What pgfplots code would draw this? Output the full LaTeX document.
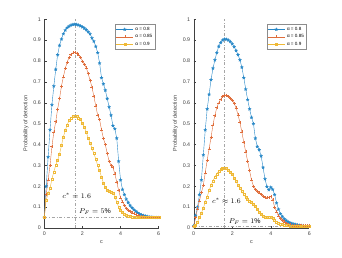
\documentclass[border=0pt]{standalone}
\usepackage{fontspec}
\setmainfont{Liberation Sans}
\usepackage{pgfplots}
\usepackage{pgfplotstable}
\pgfplotsset{compat=1.18}
\definecolor{mblue}{rgb}{0,0.447,0.741}
\definecolor{mred}{rgb}{0.85,0.325,0.098}
\definecolor{myel}{rgb}{0.929,0.694,0.125}
\pgfdeclareplotmark{pstar}{%
  \pgfpathmoveto{\pgfpointpolar{90}{\pgfplotmarksize}}%
  \pgfpathlineto{\pgfpointpolar{126}{0.42*\pgfplotmarksize}}%
  \pgfpathlineto{\pgfpointpolar{162}{\pgfplotmarksize}}%
  \pgfpathlineto{\pgfpointpolar{198}{0.42*\pgfplotmarksize}}%
  \pgfpathlineto{\pgfpointpolar{234}{\pgfplotmarksize}}%
  \pgfpathlineto{\pgfpointpolar{270}{0.42*\pgfplotmarksize}}%
  \pgfpathlineto{\pgfpointpolar{306}{\pgfplotmarksize}}%
  \pgfpathlineto{\pgfpointpolar{342}{0.42*\pgfplotmarksize}}%
  \pgfpathlineto{\pgfpointpolar{18}{\pgfplotmarksize}}%
  \pgfpathlineto{\pgfpointpolar{54}{0.42*\pgfplotmarksize}}%
  \pgfpathclose\pgfusepathqfillstroke}

\pgfplotstableread{
c b r y
0.0 0.05 0.05 0.05
0.1 0.20 0.16 0.135
0.2 0.34 0.23 0.165
0.3 0.47 0.30 0.19
0.4 0.59 0.39 0.235
0.5 0.68 0.46 0.27
0.6 0.76 0.51 0.30
0.7 0.83 0.57 0.325
0.8 0.875 0.62 0.355
0.9 0.905 0.68 0.395
1.0 0.93 0.724 0.437
1.1 0.948 0.765 0.467
1.2 0.96 0.795 0.495
1.3 0.967 0.818 0.515
1.4 0.972 0.832 0.528
1.5 0.975 0.839 0.535
1.6 0.976 0.841 0.537
1.7 0.975 0.838 0.535
1.8 0.972 0.83 0.528
1.9 0.968 0.818 0.52
2.0 0.963 0.80 0.502
2.1 0.957 0.785 0.482
2.2 0.95 0.768 0.458
2.3 0.94 0.74 0.432
2.4 0.93 0.708 0.408
2.5 0.91 0.675 0.382
2.6 0.895 0.63 0.357
2.7 0.87 0.585 0.33
2.8 0.84 0.54 0.30
2.9 0.79 0.52 0.275
3.0 0.72 0.47 0.245
3.1 0.69 0.43 0.215
3.2 0.66 0.40 0.195
3.3 0.62 0.357 0.18
3.4 0.58 0.32 0.176
3.5 0.54 0.30 0.172
3.6 0.49 0.29 0.168
3.7 0.475 0.26 0.15
3.8 0.43 0.22 0.125
3.9 0.32 0.18 0.10
4.0 0.23 0.145 0.085
4.1 0.185 0.125 0.075
4.2 0.16 0.108 0.067
4.3 0.138 0.095 0.062
4.4 0.122 0.086 0.058
4.5 0.108 0.079 0.055
4.6 0.097 0.073 0.053
4.7 0.088 0.069 0.052
4.8 0.08 0.064 0.051
4.9 0.073 0.06 0.05
5.0 0.067 0.057 0.05
5.1 0.063 0.055 0.05
5.2 0.06 0.053 0.05
5.3 0.057 0.052 0.05
5.4 0.055 0.051 0.05
5.5 0.053 0.05 0.05
5.6 0.052 0.05 0.05
5.7 0.051 0.05 0.05
5.8 0.05 0.05 0.05
5.9 0.05 0.05 0.05
6.0 0.05 0.05 0.05
}\tabL

\pgfplotstableread{
c b r y
0.0 0.01 0.01 0.01
0.1 0.06 0.05 0.015
0.2 0.10 0.092 0.03
0.3 0.16 0.13 0.05
0.4 0.23 0.17 0.072
0.5 0.35 0.205 0.095
0.6 0.47 0.265 0.125
0.7 0.57 0.325 0.15
0.8 0.64 0.38 0.18
0.9 0.71 0.434 0.205
1.0 0.765 0.495 0.225
1.1 0.805 0.54 0.245
1.2 0.84 0.577 0.26
1.3 0.87 0.60 0.272
1.4 0.888 0.617 0.28
1.5 0.90 0.63 0.285
1.6 0.905 0.636 0.287
1.7 0.904 0.635 0.285
1.8 0.90 0.63 0.278
1.9 0.893 0.622 0.268
2.0 0.882 0.612 0.258
2.1 0.868 0.598 0.24
2.2 0.85 0.575 0.223
2.3 0.83 0.543 0.205
2.4 0.805 0.505 0.19
2.5 0.77 0.46 0.175
2.6 0.72 0.41 0.16
2.7 0.665 0.365 0.148
2.8 0.615 0.32 0.138
2.9 0.57 0.275 0.13
3.0 0.53 0.23 0.124
3.1 0.50 0.20 0.115
3.2 0.43 0.185 0.103
3.3 0.39 0.177 0.09
3.4 0.375 0.168 0.078
3.5 0.345 0.16 0.066
3.6 0.29 0.152 0.058
3.7 0.235 0.147 0.052
3.8 0.198 0.145 0.05
3.9 0.183 0.148 0.052
4.0 0.195 0.152 0.054
4.1 0.185 0.135 0.047
4.2 0.16 0.10 0.038
4.3 0.12 0.078 0.03
4.4 0.09 0.058 0.024
4.5 0.068 0.045 0.02
4.6 0.055 0.036 0.017
4.7 0.043 0.029 0.015
4.8 0.036 0.023 0.013
4.9 0.03 0.019 0.012
5.0 0.025 0.016 0.011
5.1 0.022 0.014 0.01
5.2 0.019 0.013 0.01
5.3 0.017 0.012 0.01
5.4 0.015 0.011 0.01
5.5 0.013 0.01 0.01
5.6 0.012 0.01 0.01
5.7 0.011 0.01 0.01
5.8 0.01 0.01 0.01
5.9 0.01 0.01 0.01
6.0 0.01 0.01 0.01
}\tabR

\pgfplotsset{
  panel/.style={
    scale only axis, anchor=south west,
    height=208.7pt,
    xmin=0, xmax=6, ymin=0, ymax=1,
    axis x line*=bottom, axis y line*=left,
    axis line style={draw=black!75, line width=0.4pt},
    tick align=inside, major tick length=2.2pt,
    tick style={black!75, line width=0.4pt},
    xtick={0,2,4,6},
    ytick={0,0.1,...,1},
    yticklabels={0,0.1,0.2,0.3,0.4,0.5,0.6,0.7,0.8,0.9,1},
    /pgf/number format/assume math mode=true,
    tick label style={font=\fontsize{5.3}{6}\selectfont, text=black!75},
    xticklabel style={yshift=-0.5pt},
    label style={font=\fontsize{5.5}{6.5}\selectfont, text=black!75},
    xlabel={c},
    ylabel={Probability of detection},
    ylabel style={yshift=-2pt},
    xlabel style={yshift=2pt},
    legend cell align=left,
    legend style={font=\fontsize{4.6}{5.5}\selectfont, draw=black!45, line width=0.3pt,
      inner sep=0.6pt, row sep=-1.2pt, anchor=north east},
    every axis plot/.append style={line width=0.4pt},
    clip=false,
  }
}
\begin{document}
\begin{tikzpicture}
\path[use as bounding box] (0pt,0pt) rectangle (342pt,257pt);
\begin{axis}[panel, at={(44.3pt,29pt)}, width=114.4pt,
  legend style={at={(rel axis cs:0.968,0.976)}}]
\addplot[gray!70, dashdotted, line width=0.4pt, forget plot] coordinates {(1.6,0) (1.6,1)};
\addplot[gray!70, dashdotted, line width=0.4pt, forget plot] coordinates {(0,0.05) (6,0.05)};
\addplot[mblue!85, mark=pstar, mark size=1.7pt, mark options={fill=mblue!85, line width=0.15pt}] table[x=c,y=b] {\tabL};
\addplot[mred!85, mark=+, mark size=1.5pt, mark options={line width=0.3pt}] table[x=c,y=r] {\tabL};
\addplot[myel!90, mark=square, mark size=1.0pt, mark options={line width=0.3pt}] table[x=c,y=y] {\tabL};
\legend{α = 0.8, α = 0.85, α = 0.9}
\node[font=\fontsize{7}{8}\selectfont] at (axis cs:1.7,0.152) {$c^{*} = 1.6$};
\node[font=\fontsize{7}{8}\selectfont] at (axis cs:2.66,0.078) {$P_F = 5\%$};
\end{axis}
\begin{axis}[panel, at={(193.7pt,29pt)}, width=115.6pt,
  legend style={at={(rel axis cs:0.977,0.976)}}]
\addplot[gray!70, dashdotted, line width=0.4pt, forget plot] coordinates {(1.6,0) (1.6,1)};
\addplot[gray!70, dashdotted, line width=0.4pt, forget plot] coordinates {(0,0.01) (6,0.01)};
\addplot[mblue!85, mark=pstar, mark size=1.7pt, mark options={fill=mblue!85, line width=0.15pt}] table[x=c,y=b] {\tabR};
\addplot[mred!85, mark=+, mark size=1.5pt, mark options={line width=0.3pt}] table[x=c,y=r] {\tabR};
\addplot[myel!90, mark=square, mark size=1.0pt, mark options={line width=0.3pt}] table[x=c,y=y] {\tabR};
\legend{α = 0.8, α = 0.85, α = 0.9}
\node[font=\fontsize{7}{8}\selectfont] at (axis cs:1.7,0.13) {$c^{*} \approx 1.6$};
\node[font=\fontsize{7}{8}\selectfont] at (axis cs:2.65,0.032) {$P_F = 1\%$};
\end{axis}
\end{tikzpicture}
\end{document}
